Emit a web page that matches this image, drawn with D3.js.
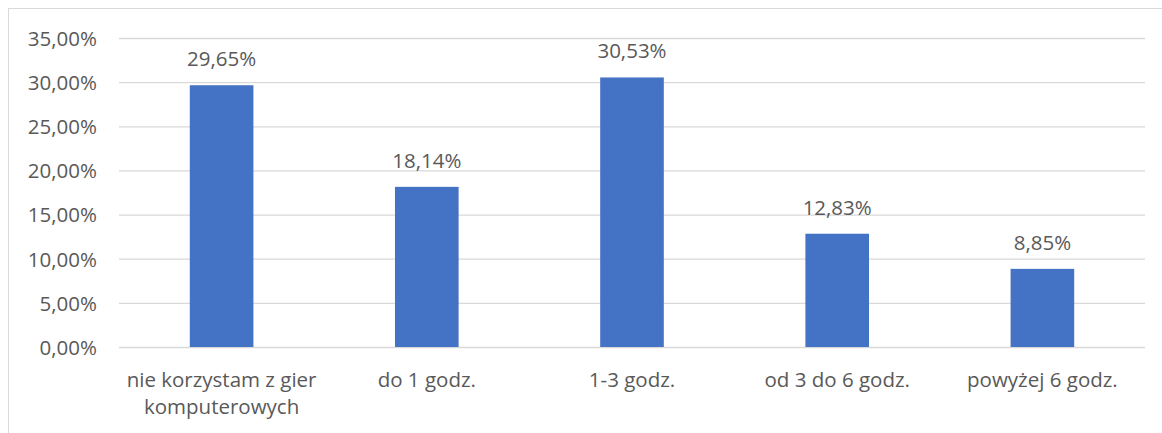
<!DOCTYPE html>
<html><head><meta charset="utf-8">
<script src="https://cdn.jsdelivr.net/npm/d3@7"></script>
<style>body{margin:0;background:#fff}svg{display:block}</style>
</head><body>
<svg id="c" width="1162" height="433"></svg>
<script>
const categories = [["nie korzystam z gier","komputerowych"],["do 1 godz."],["1-3 godz."],["od 3 do 6 godz."],["powyżej 6 godz."]];
const values = [29.65, 18.14, 30.53, 12.83, 8.85];
const yTicks = [0,5,10,15,20,25,30,35];

(function(){
const svg = d3.select("#c");
const font = "'Open Sans', sans-serif";
const fs = "20.5px";
const textColor = "#595959";
const mLeft = 119, mRight = 1145, mTop = 38, mBottom = 347;

svg.append("rect").attr("x",8.5).attr("y",8.5).attr("width",1200).attr("height",500)
  .attr("fill","none").attr("stroke","#d9d9d9").attr("stroke-width",1);

const x = d3.scaleBand().domain(d3.range(categories.length)).range([mLeft,mRight]).paddingInner(0.69).paddingOuter(0.345);
const y = d3.scaleLinear().domain([0,35]).range([mBottom,mTop]);

const fmt = v => v.toFixed(2).replace(".",",") + "%";

const yAxis = svg.append("g").attr("transform",`translate(${mLeft},0)`)
  .call(d3.axisLeft(y).tickValues(yTicks).tickSize(-(mRight-mLeft)).tickPadding(22).tickFormat(fmt));
yAxis.select(".domain").remove();
yAxis.selectAll(".tick line").attr("stroke","#d9d9d9").attr("stroke-width",1.3);
yAxis.selectAll(".tick text").attr("fill",textColor).attr("dy","0.36em").style("font-family",font).style("font-size",fs);

svg.append("g").selectAll("rect").data(values).join("rect")
  .attr("x",(d,i)=>x(i)).attr("width",x.bandwidth())
  .attr("y",d=>y(d)).attr("height",d=>y(0)-y(d)).attr("fill","#4472C4");

svg.append("g").selectAll("text").data(values).join("text")
  .attr("x",(d,i)=>x(i)+x.bandwidth()/2).attr("y",d=>y(d)-19)
  .attr("text-anchor","middle").attr("fill",textColor)
  .style("font-family",font).style("font-size",fs).text(fmt);

const xc = d3.scaleBand().domain(d3.range(categories.length)).range([mLeft,mRight]);
const cat = svg.append("g").selectAll("text").data(categories).join("text")
  .attr("x",(d,i)=>xc(i)+xc.bandwidth()/2).attr("y",387)
  .attr("text-anchor","middle").attr("fill",textColor)
  .style("font-family",font).style("font-size",fs);
cat.selectAll("tspan").data(d=>d).join("tspan")
  .attr("x",function(){return this.parentNode.getAttribute("x");})
  .attr("dy",(d,i)=>i===0?0:27).text(d=>d);
})();
</script>
</body></html>
